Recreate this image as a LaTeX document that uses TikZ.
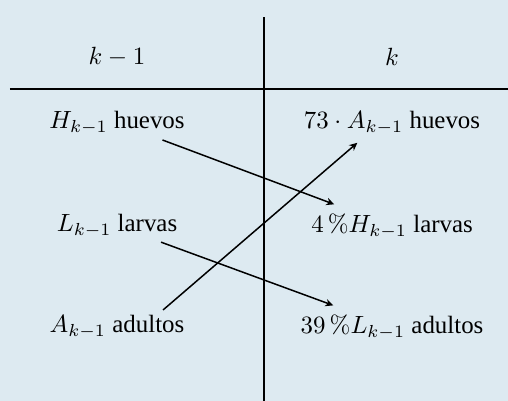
\documentclass[tikz,border=0pt]{standalone}
\usepackage[no-math]{fontspec}
\setmainfont{Liberation Serif}
\usepackage{amsmath}
\usetikzlibrary{arrows.meta,calc,positioning}
\definecolor{figBg}{RGB}{221,234,241}

\begin{document}
\begin{tikzpicture}[>={Stealth[length=3.2pt,width=3pt]},
  cell/.style={inner sep=2pt}]
% frame 7.17 x 5.66 cm
\fill[figBg] (0,0) rectangle (7.168,5.658);
\useasboundingbox (0,0) rectangle (7.168,5.658);
\draw[line width=0.7pt] (3.725,0)--(3.725,5.42);
\draw[line width=0.7pt] (0.141,4.403)--(7.168,4.403);
\node[cell] (hl) at (1.651,4.854) {$k-1$};
\node[cell] (hr) at (5.532,4.854) {$k$};
\node[cell] (H) at (1.651,3.923) {$H_{k-1}$ huevos};
\node[cell] (L) at (1.651,2.469) {$L_{k-1}$ larvas};
\node[cell] (A) at (1.651,1.044) {$A_{k-1}$ adultos};
\node[cell] (Hn) at (5.532,3.923) {$73\cdot A_{k-1}$ huevos};
\node[cell] (Ln) at (5.532,2.469) {$4\,\%H_{k-1}$ larvas};
\node[cell] (An) at (5.532,1.044) {$39\,\%L_{k-1}$ adultos};
\draw[->,line width=0.6pt,shorten >=4.5pt] (H)--(Ln);
\draw[->,line width=0.6pt,shorten >=4.5pt,shorten <=-1pt] (L)--(An);
\draw[->,line width=0.6pt] ($(A.north)+(0.65,0)$)--($(Hn.south)+(-0.49,-0.04)$);
\end{tikzpicture}
\end{document}
